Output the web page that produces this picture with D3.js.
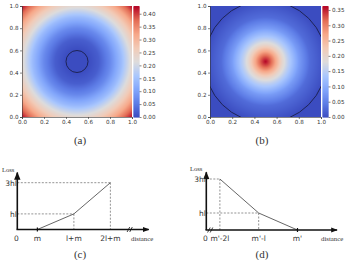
<!DOCTYPE html>
<html lang="en">
<head>
<meta charset="UTF-8">
<title>Loss heatmaps</title>
<script src="https://d3js.org/d3.v7.min.js"></script>
<style>
  body { margin: 0; background: white; }
  svg { display: block; }
  .tick text { font-family: "DejaVu Sans", sans-serif; font-size: 5.6px; fill: #333; }
  .tick line, .domain { stroke: #333; stroke-width: 0.6px; }
  .lbl { font-family: "DejaVu Sans", sans-serif; font-size: 7.5px; fill: #333; }
  .serif { font-family: "Liberation Serif", "DejaVu Serif", serif; fill: #333; }
</style>
</head>
<body>
<script>
// heatmap axes
var axisTicks = [0, 0.2, 0.4, 0.6, 0.8, 1.0];
var cbTicksA = [0, 0.05, 0.10, 0.15, 0.20, 0.25, 0.30, 0.35, 0.40];
var cbTicksB = [0, 0.05, 0.10, 0.15, 0.20, 0.25, 0.30, 0.35];
var cbMaxA = 0.43, cbMaxB = 0.363;

// radial loss profiles (distance from centre -> value)
var distA = [0, 0.1, 0.2, 0.3, 0.4, 0.5, 0.6, 0.71];
var lossA = [0, 0, 0.02, 0.07, 0.14, 0.23, 0.32, 0.43];
var distB = [0, 0.05, 0.1, 0.15, 0.2, 0.3, 0.4, 0.55];
var lossB = [0.363, 0.32, 0.26, 0.2, 0.155, 0.08, 0.03, 0];
var circleA = 0.1, circleB = 0.55;

// coolwarm colour stops
var cwStops = [0, 0.125, 0.25, 0.375, 0.5, 0.625, 0.75, 0.875, 1];
var cwColors = ["#3b4cc0", "#5d7ce6", "#82a6fb", "#aac7fd", "#dddcdc", "#f2cbb7", "#f7a889", "#e36c55", "#b40426"];

// loss curves (x in units of l, y in units of hl)
var labelsC = ["m", "l+m", "2l+m"];
var xC = [0.55, 1.55, 2.55];
var yC = [0, 1, 3];
var labelsD = ["m'-2l", "m'-l", "m'"];
var xD = [0.35, 1.35, 2.35];
var yD = [3, 1, 0];
var yLabels = ["hl", "3hl"];
var yLabelVals = [1, 3];

var svg = d3.select("body").append("svg").attr("width", 348).attr("height", 260);

var cw = d3.scaleLinear().domain(cwStops).range(cwColors).interpolate(d3.interpolateRgb);

function heatmap(x0, x1, y0, y1, dist, loss, vmax, ticks, circ, cbx, id) {
  var g = svg.append("g");
  var xs = d3.scaleLinear().domain([0, 1]).range([x0, x1]);
  var ys = d3.scaleLinear().domain([0, 1]).range([y1, y0]);
  var prof = d3.scaleLinear().domain(dist).range(loss).clamp(true);
  var n = 220;
  var cv = document.createElement("canvas");
  cv.width = n; cv.height = n;
  var ctx = cv.getContext("2d");
  var img = ctx.createImageData(n, n);
  for (var j = 0; j < n; j++) {
    for (var i = 0; i < n; i++) {
      var px = (i + 0.5) / n, py = 1 - (j + 0.5) / n;
      var d = Math.hypot(px - 0.5, py - 0.5);
      var c = d3.rgb(cw(prof(d) / vmax));
      var k = (j * n + i) * 4;
      img.data[k] = c.r; img.data[k + 1] = c.g; img.data[k + 2] = c.b; img.data[k + 3] = 255;
    }
  }
  ctx.putImageData(img, 0, 0);
  g.append("image").attr("href", cv.toDataURL())
    .attr("x", x0).attr("y", y0).attr("width", x1 - x0).attr("height", y1 - y0)
    .attr("preserveAspectRatio", "none");

  g.append("clipPath").attr("id", id).append("rect")
    .attr("x", x0).attr("y", y0).attr("width", x1 - x0).attr("height", y1 - y0);
  g.append("circle").attr("clip-path", "url(#" + id + ")")
    .attr("cx", xs(0.5)).attr("cy", ys(0.5)).attr("r", xs(circ) - xs(0))
    .attr("fill", "none").attr("stroke", "#1b1f4a").attr("stroke-width", 0.9);

  g.append("g").attr("transform", "translate(0," + y1 + ")")
    .call(d3.axisBottom(xs).tickValues(axisTicks).tickFormat(d3.format(".1f")).tickSize(2).tickPadding(1.5));
  g.append("g").attr("transform", "translate(" + x0 + ",0)")
    .call(d3.axisLeft(ys).tickValues(axisTicks).tickFormat(d3.format(".1f")).tickSize(2).tickPadding(1.5));

  // colour bar
  var cs = d3.scaleLinear().domain([0, vmax]).range([y1, y0]);
  var steps = d3.range(0, 111);
  g.selectAll(null).data(steps).enter().append("rect")
    .attr("x", cbx).attr("width", 6)
    .attr("y", function (s) { return cs(vmax * (s + 1) / 111); })
    .attr("height", function (s) { return cs(vmax * s / 111) - cs(vmax * (s + 1) / 111) + 0.6; })
    .attr("fill", function (s) { return cw((s + 0.5) / 111); });
  g.append("g").attr("transform", "translate(" + (cbx + 6) + ",0)")
    .call(d3.axisRight(cs).tickValues(ticks).tickFormat(d3.format(".2f")).tickSize(2).tickPadding(1.5))
    .call(function (a) { a.select(".domain").remove(); });
}

heatmap(22, 132, 6, 117, distA, lossA, cbMaxA, cbTicksA, circleA, 133.5, "clipA");
heatmap(210, 321, 6, 117, distB, lossB, cbMaxB, cbTicksB, circleB, 322.5, "clipB");

// captions
[["(a)", 80, 144], ["(b)", 262, 144], ["(c)", 80, 258], ["(d)", 262, 258]].forEach(function (c) {
  svg.append("text").attr("class", "serif").attr("x", c[1]).attr("y", c[2])
    .attr("text-anchor", "middle").style("font-size", "11px").text(c[0]);
});

svg.append("defs").append("marker").attr("id", "arr")
  .attr("viewBox", "0 0 10 10").attr("refX", 9).attr("refY", 5)
  .attr("markerWidth", 5).attr("markerHeight", 5).attr("orient", "auto")
  .append("path").attr("d", "M0,1L10,5L0,9Z").attr("fill", "#111");

function lossPlot(ox, oy, xPx, yPx, xMax, yMax, xs0, ys0, labels, brk, endTick, lossLabelX, distX) {
  var g = svg.append("g");
  var xs = d3.scaleLinear().domain([0, xMax]).range([ox, ox + xPx * xMax]);
  var ys = d3.scaleLinear().domain([0, yMax]).range([oy, oy - yPx * yMax]);
  // dashed guides
  xs0.forEach(function (x, i) {
    if (ys0[i] === 0) return;
    g.append("line").attr("x1", xs(0)).attr("x2", xs(x)).attr("y1", ys(ys0[i])).attr("y2", ys(ys0[i]))
      .attr("stroke", "#666").attr("stroke-width", 0.7).attr("stroke-dasharray", "2,1.5");
    g.append("line").attr("x1", xs(x)).attr("x2", xs(x)).attr("y1", ys(ys0[i])).attr("y2", ys(0))
      .attr("stroke", "#666").attr("stroke-width", 0.7).attr("stroke-dasharray", "2,1.5");
  });
  // loss curve
  g.append("path").datum(xs0.map(function (x, i) { return [x, ys0[i]]; }))
    .attr("d", d3.line().x(function (d) { return xs(d[0]); }).y(function (d) { return ys(d[1]); }))
    .attr("fill", "none").attr("stroke", "#555").attr("stroke-width", 0.9);
  // axes
  g.append("line").attr("x1", xs(0)).attr("y1", ys(0)).attr("x2", xs(0)).attr("y2", ys(yMax))
    .attr("stroke", "#111").attr("stroke-width", 1.6).attr("marker-end", "url(#arr)");
  g.append("line").attr("x1", xs(0) - 0.8).attr("y1", ys(0)).attr("x2", xs(xMax)).attr("y2", ys(0))
    .attr("stroke", "#111").attr("stroke-width", 1.3).attr("marker-end", "url(#arr)");
  // axis break
  [-1.3, 1.3].forEach(function (dx) {
    g.append("line").attr("x1", xs(brk) + dx - 1.3).attr("y1", ys(0) + 2.5)
      .attr("x2", xs(brk) + dx + 1.3).attr("y2", ys(0) - 2.5)
      .attr("stroke", "#111").attr("stroke-width", 0.8);
  });
  // tick at the zero-loss point
  g.append("line").attr("x1", xs(endTick)).attr("x2", xs(endTick)).attr("y1", ys(0) - 2).attr("y2", ys(0) + 2)
    .attr("stroke", "#111").attr("stroke-width", 1.2);
  // labels
  g.append("text").attr("class", "lbl").attr("x", xs(0) - 1).attr("y", ys(0) + 11)
    .attr("text-anchor", "middle").text("0");
  labels.forEach(function (t, i) {
    g.append("text").attr("class", "lbl").attr("x", xs(xs0[i])).attr("y", ys(0) + 11)
      .attr("text-anchor", "middle").text(t);
  });
  yLabels.forEach(function (t, i) {
    g.append("text").attr("class", "lbl").attr("x", xs(0) - 0.5).attr("y", ys(yLabelVals[i]) + 2.8)
      .attr("text-anchor", "end").text(t);
  });
  g.append("text").attr("class", "serif").attr("x", lossLabelX).attr("y", ys(yMax) - 1)
    .style("font-size", "6.5px").text("Loss");
  g.append("text").attr("class", "serif").attr("x", distX).attr("y", ys(0) + 11)
    .style("font-size", "6.8px").text("distance");
}

lossPlot(17.3, 229.5, 36.5, 15.6, 3.6, 3.65, xC, yC, labelsC, 3.08, 0.55, 2, 131);
lossPlot(206.3, 230, 38.8, 17, 3.37, 3.4, xD, yD, labelsD, 0.1, 2.35, 190, 321);
</script>
</body>
</html>
